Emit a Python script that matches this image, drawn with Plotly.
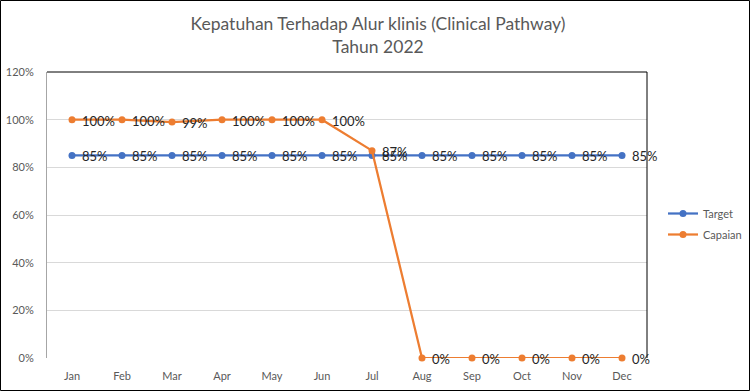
import plotly.graph_objects as go

months = ["Jan", "Feb", "Mar", "Apr", "May", "Jun", "Jul", "Aug", "Sep", "Oct", "Nov", "Dec"]
target = [0.85] * 12
capaian = [1.00, 1.00, 0.99, 1.00, 1.00, 1.00, 0.87, 0.0, 0.0, 0.0, 0.0, 0.0]

BLUE = "#4472C4"
ORANGE = "#ED7D31"
FONT = "Lato"

L, R, T, B = 47, 103, 72, 33
W, H = 750, 391
pw, ph = W - L - R, H - T - B

fig = go.Figure()
annotations = []
for name, vals, col in [("Target", target, BLUE), ("Capaian", capaian, ORANGE)]:
    fig.add_trace(go.Scatter(
        x=list(range(12)), y=vals, name=name, legendgroup=name, mode="lines+markers",
        line=dict(color=col, width=2.25), marker=dict(color=col, size=7),
        cliponaxis=False, hoverinfo="skip",
    ))
    for i, v in enumerate(vals):
        annotations.append(dict(
            x=i, y=v, xref="x", yref="y", text=f"{round(v*100)}%", showarrow=False,
            xanchor="left", yanchor="middle", xshift=8, yshift=-1,
            font=dict(family=FONT, size=13, color="#262626"),
        ))


def px_x(x):
    return (x - L) / pw


def px_y(y):
    return (H - B - y) / ph


shapes = [
    dict(type="line", xref="paper", yref="paper", x0=0, x1=1, y0=1, y1=1, line=dict(color="black", width=1)),
    dict(type="line", xref="paper", yref="paper", x0=1, x1=1, y0=0, y1=1, line=dict(color="black", width=1)),
    dict(type="rect", xref="paper", yref="paper", x0=px_x(0.5), x1=px_x(W - 0.5), y0=px_y(H - 0.5), y1=px_y(0.5),
         line=dict(color="black", width=1)),
]

fig.update_layout(
    width=W, height=H, margin=dict(l=L, r=R, t=T, b=B, autoexpand=False),
    paper_bgcolor="white", plot_bgcolor="white",
    title=dict(text="Kepatuhan Terhadap Alur klinis (Clinical Pathway)<br>Tahun 2022",
               x=378 / W, xanchor="center", y=1 - 30 / H, yanchor="middle",
               font=dict(family=FONT, size=17.5, color="#595959")),
    xaxis=dict(range=[-0.5, 11.5], tickmode="array", tickvals=list(range(12)), ticktext=months,
               showgrid=False, zeroline=False, showline=False, ticks="", automargin=False,
               tickfont=dict(family=FONT, size=11, color="#595959"), ticklabelstandoff=10),
    yaxis=dict(range=[0, 1.2], dtick=0.2, tickformat=".0%", showgrid=True, gridcolor="#D9D9D9",
               zeroline=False, showline=True, linecolor="#A6A6A6", ticks="", automargin=False,
               tickfont=dict(family=FONT, size=11, color="#595959"), ticklabelstandoff=10),
    legend=dict(x=px_x(663), xanchor="left", y=px_y(199), yanchor="top", traceorder="grouped",
                font=dict(family=FONT, size=11, color="#595959"), itemwidth=30, tracegroupgap=2),
    shapes=shapes,
    annotations=annotations,
    showlegend=True,
)
fig.write_html("out.html", config={"displayModeBar": False})

with open("out.html", encoding="utf-8") as f:
    html = f.read()
html = html.replace("<head>", "<head><style>html,body{margin:0;padding:0;overflow:hidden;}</style>", 1)
with open("out.html", "w", encoding="utf-8") as f:
    f.write(html)
